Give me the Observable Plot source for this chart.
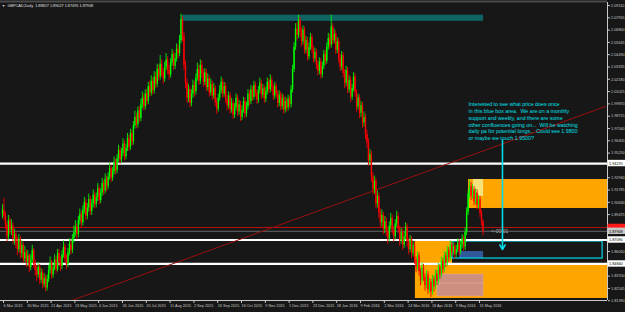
<!DOCTYPE html>
<html><head><meta charset="utf-8">
<script src="https://cdn.jsdelivr.net/npm/d3@7"></script>
<script src="https://cdn.jsdelivr.net/npm/@observablehq/plot@0.6"></script>
<style>html,body{margin:0;padding:0;background:#171717;overflow:hidden}</style>
</head><body><div id="chart"></div>
<script>
const symbolTitle = "GBPCAD,Daily  1.88827 1.89027 1.87495 1.87908";
const firstOpen = 1.895;
const close = [1.899,1.893,1.885,1.874,1.889,1.880,1.884,1.872,1.876,1.868,
1.862,1.871,1.858,1.866,1.853,1.859,1.850,1.856,1.845,1.852,1.861,1.848,1.842,
1.838,1.845,1.833,1.840,1.829,1.835,1.826,1.834,1.842,
1.849,1.838,1.845,1.852,1.843,1.858,1.850,1.846,1.857,1.864,1.853,1.848,1.859,1.867,1.861,1.872,1.878,
1.883,1.876,1.889,1.895,1.887,1.899,1.906,1.893,1.901,1.909,1.898,1.905,1.913,1.904,1.911,1.919,1.908,1.915,1.924,1.917,1.928,
1.921,1.930,1.938,1.929,1.935,1.944,1.936,1.947,1.955,1.946,1.952,1.961,1.949,1.957,1.966,1.958,1.971,1.963,1.978,1.986,
1.979,1.992,1.985,1.998,2.004,1.996,2.008,2.001,2.015,2.009,2.020,2.011,2.024,2.017,2.031,2.024,2.036,2.028,2.022,
2.033,2.040,2.030,2.026,2.037,2.045,2.034,2.041,2.050,2.046,2.058,2.078,2.062,2.035,
2.018,2.004,2.012,1.999,2.008,2.016,2.010,2.023,2.031,2.020,2.035,2.027,2.019,2.028,2.014,2.022,2.009,2.017,
2.006,2.013,2.000,1.994,2.004,2.011,2.019,2.008,2.015,2.003,1.997,2.006,1.993,1.999,1.988,1.995,2.004,1.991,1.998,1.986,1.993,2.001,1.989,1.996,2.008,2.001,2.012,2.005,2.016,2.009,2.002,2.011,2.018,2.007,2.013,2.003,2.010,2.019,2.012,2.021,2.014,2.006,2.015,2.008,1.999,2.007,1.996,2.004,1.993,2.001,1.995,2.003,1.998,2.012,
2.031,2.052,2.069,2.063,2.077,2.066,2.057,2.068,2.049,2.058,2.043,2.052,2.061,
2.050,2.041,2.047,2.035,2.029,2.038,2.026,2.034,2.045,2.039,2.052,2.060,2.054,2.071,2.058,
2.064,2.049,2.057,2.041,2.033,2.044,2.027,2.018,2.030,2.012,2.021,2.005,2.013,2.024,2.009,1.996,2.004,1.990,
1.997,1.981,1.986,1.970,1.962,1.945,1.951,1.930,1.918,1.926,1.905,1.912,1.896,1.887,1.894,1.881,1.888,
1.879,1.872,1.884,1.891,1.880,1.874,1.886,1.893,1.881,1.870,1.878,1.866,1.874,1.883,1.869,1.862,1.871,1.858,
1.866,1.852,1.845,1.856,1.841,1.833,1.845,1.836,1.828,1.838,1.824,1.831,1.822,1.834,1.827,1.839,
1.832,1.845,1.838,1.851,1.843,1.856,1.849,1.861,1.854,1.866,1.859,1.865,1.857,1.862,1.868,1.860,1.866,1.872,1.864,
1.878,1.897,1.914,1.921,1.912,1.918,1.907,1.915,1.903,1.909,1.896,1.888,1.879];
const high = [1.904,1.910,1.897,1.888,1.894,1.892,1.890,1.887,1.881,1.879,
1.873,1.876,1.874,1.870,1.869,1.865,1.862,1.861,1.858,1.857,1.866,1.863,1.852,
1.847,1.850,1.848,1.844,1.843,1.839,1.838,1.838,1.847,
1.855,1.852,1.849,1.857,1.855,1.862,1.862,1.855,1.861,1.870,1.867,1.857,1.863,1.872,1.871,1.876,1.884,
1.889,1.886,1.893,1.900,1.898,1.903,1.911,1.909,1.905,1.914,1.912,1.909,1.918,1.916,1.915,1.924,1.922,1.919,1.929,1.927,1.933,
1.931,1.934,1.943,1.941,1.939,1.949,1.947,1.951,1.960,1.958,1.957,1.966,1.964,1.961,1.971,1.969,1.975,1.974,1.982,1.992,
1.990,1.996,1.996,2.003,2.010,2.008,2.012,2.012,2.019,2.020,2.025,2.023,2.029,2.028,2.036,2.035,2.044,2.040,2.032,
2.038,2.046,2.043,2.035,2.041,2.050,2.048,2.046,2.055,2.054,2.063,2.083,2.081,2.066,
2.039,2.022,2.017,2.015,2.012,2.021,2.020,2.027,2.037,2.035,2.040,2.039,2.031,2.032,2.031,2.027,2.025,2.022,
2.020,2.018,2.016,2.004,2.008,2.016,2.024,2.022,2.019,2.018,2.007,2.010,2.009,2.004,2.002,1.999,2.008,2.007,2.002,2.001,1.997,2.005,2.004,2.000,2.012,2.011,2.016,2.015,2.020,2.019,2.012,2.015,2.023,2.021,2.017,2.016,2.014,2.023,2.022,2.026,2.024,2.017,2.019,2.018,2.011,2.011,2.010,2.008,2.007,2.005,2.004,2.007,2.006,2.016,
2.035,2.056,2.074,2.075,2.082,2.080,2.070,2.072,2.071,2.062,2.061,2.056,2.065,
2.064,2.053,2.051,2.050,2.039,2.042,2.041,2.038,2.049,2.049,2.056,2.065,2.064,2.082,2.074,
2.069,2.067,2.061,2.060,2.045,2.048,2.047,2.031,2.034,2.033,2.025,2.024,2.017,2.028,2.027,2.012,2.008,2.007,
2.001,2.000,1.991,1.989,1.974,1.966,1.956,1.954,1.934,1.931,1.929,1.917,1.915,1.900,1.899,1.897,1.893,
1.892,1.883,1.888,1.896,1.894,1.884,1.890,1.898,1.896,1.884,1.882,1.881,1.878,1.887,1.886,1.872,1.875,1.874,
1.870,1.869,1.855,1.860,1.859,1.844,1.849,1.848,1.839,1.842,1.841,1.835,1.834,1.838,1.837,1.843,
1.842,1.849,1.848,1.855,1.854,1.860,1.859,1.865,1.864,1.870,1.869,1.869,1.868,1.866,1.872,1.871,1.870,1.876,1.875,
1.882,1.901,1.918,1.927,1.925,1.923,1.921,1.919,1.918,1.913,1.912,1.899,1.890];
const low = [1.891,1.889,1.881,1.869,1.871,1.876,1.875,1.867,1.866,1.863,
1.856,1.859,1.853,1.854,1.849,1.850,1.845,1.846,1.840,1.842,1.849,1.844,1.837,
1.832,1.835,1.829,1.830,1.825,1.826,1.822,1.823,1.831,
1.839,1.834,1.835,1.842,1.839,1.841,1.846,1.841,1.843,1.854,1.849,1.843,1.845,1.856,1.857,1.858,1.868,
1.874,1.871,1.873,1.885,1.882,1.884,1.895,1.889,1.890,1.897,1.894,1.894,1.901,1.900,1.901,1.907,1.904,1.905,1.912,1.913,1.914,
1.916,1.918,1.927,1.925,1.926,1.932,1.932,1.933,1.944,1.942,1.943,1.949,1.945,1.946,1.954,1.954,1.955,1.959,1.960,1.975,
1.975,1.976,1.981,1.982,1.994,1.992,1.993,1.997,1.998,2.005,2.006,2.007,2.008,2.013,2.014,2.020,2.021,2.024,2.017,
2.019,2.030,2.026,2.021,2.023,2.034,2.030,2.031,2.038,2.041,2.043,2.055,2.057,2.030,
2.013,1.999,2.000,1.995,1.996,2.004,2.005,2.007,2.020,2.016,2.017,2.023,2.014,2.016,2.010,2.011,2.005,2.006,
2.002,2.003,1.996,1.989,1.991,2.001,2.008,2.004,2.005,1.999,1.992,1.994,1.989,1.990,1.984,1.985,1.992,1.987,1.988,1.982,1.983,1.990,1.985,1.986,1.993,1.997,1.998,2.001,2.002,2.005,1.998,1.999,2.008,2.003,2.004,1.999,2.000,2.007,2.008,2.009,2.010,2.002,2.003,2.004,1.995,1.996,1.992,1.993,1.989,1.990,1.991,1.992,1.994,1.995,
2.009,2.028,2.049,2.058,2.060,2.061,2.052,2.054,2.045,2.046,2.039,2.040,2.049,
2.046,2.037,2.038,2.031,2.025,2.026,2.022,2.023,2.031,2.035,2.036,2.049,2.050,2.051,2.054,
2.055,2.045,2.046,2.037,2.029,2.030,2.023,2.013,2.015,2.008,2.009,2.000,2.002,2.010,2.005,1.991,1.993,1.985,
1.986,1.976,1.977,1.965,1.957,1.940,1.941,1.925,1.913,1.914,1.900,1.901,1.891,1.882,1.883,1.876,1.877,
1.874,1.867,1.869,1.880,1.876,1.869,1.871,1.883,1.877,1.865,1.867,1.861,1.863,1.871,1.864,1.857,1.859,1.853,
1.855,1.848,1.840,1.842,1.837,1.828,1.830,1.832,1.823,1.825,1.820,1.821,1.817,1.819,1.822,1.824,
1.828,1.829,1.834,1.835,1.839,1.840,1.845,1.846,1.850,1.851,1.855,1.856,1.853,1.854,1.859,1.856,1.857,1.863,1.860,
1.861,1.875,1.894,1.910,1.908,1.909,1.903,1.904,1.899,1.900,1.892,1.884,1.875];

// time axis: one label every 16 bars, starting at bar 0
const dateLabels = ["6 Mar 2015","30 Mar 2015","21 Apr 2015","13 May 2015","4 Jun 2015","26 Jun 2015","20 Jul 2015","11 Aug 2015","2 Sep 2015","24 Sep 2015","16 Oct 2015","9 Nov 2015","1 Dec 2015","23 Dec 2015","18 Jan 2016","9 Feb 2016","2 Mar 2016","24 Mar 2016","18 Apr 2016","9 May 2016","31 May 2016"];
const dateLabelBars = [0,16,32,48,64,80,96,112,128,144,160,176,192,208,224,240,256,272,288,304,320];
const priceTicks = [2.09110,2.07955,2.06800,2.05645,2.04490,2.03335,2.02180,2.01025,1.99870,1.98715,1.97560,1.96405,1.95250,1.94095,1.92940,1.91785,1.90630,1.89475,1.88320,1.87165,1.86010,1.84855,1.83700,1.82545,1.81390];

// drawn objects (bar index, price)
const whiteLevels = [1.94270, 1.87090, 1.84840];
const redLevel = 1.88270;
const bidPrice = 1.87908;
const topZone = {from: 120.3, to: 323.4, top: 2.0820, bottom: 2.0762};
const upperOrange = {from: 313.3, top: 1.9277, bottom: 1.9005};
const yellowBox = {from: 316.6, to: 323.4, top: 1.9277, bottom: 1.9117};
const lowerOrangeLeft = {from: 277.6, to: 302.5, top: 1.8695, bottom: 1.8160};
const lowerOrange = {from: 277.6, top: 1.8484, bottom: 1.8160};
const pinkBoxes = [{from: 292.4, to: 323.4, top: 1.8385, bottom: 1.8300}, {from: 292.4, to: 323.4, top: 1.8300, bottom: 1.8179}];
const blueBox = {from: 307.2, to: 323.4, top: 1.8601, bottom: 1.8535};
const cyanBox = {from: 302.5, to: 403.4, top: 1.8695, bottom: 1.8535};
const trendPoints = [{i: 41, p: 1.8113}, {i: 405.4, p: 1.9963}];
const arrowPoints = {i: 336.1, from: 1.9643, to: 1.8620};
const timerLabel = {i: 328.5, p: 1.8789, text: "<-00:01"};
const noteLines = ["Interested to see what price does once","in this blue box area.  We are on a monthly","support and weekly, and there are some","other confluences going on...  Will be watching","daily pa for potential longs..  Could see 1.9800","or maybe we touch 1.9500?"];
const noteAnchor = {i: 313.3, p: 2.0010};

const bars = close.map((c, i) => {
  const o = i ? close[i - 1] : firstOpen;
  return {i, open: o, close: c, high: Math.max(high[i], o, c), low: Math.min(low[i], o, c)};
});
const xMin = -1.345, xMax = 406.7;
const up = bars.filter(d => d.close >= d.open), down = bars.filter(d => d.close < d.open);
const box = (b, x2) => [{x1: b.from, x2: b.to ?? x2, y1: b.bottom, y2: b.top}];
const labW = 11.8, labH = 0.0030;
const hl = [
  ...whiteLevels.map(p => ({p, bg: "#ffffff", fg: "#000000"})),
  {p: bidPrice, bg: "#c8c8c8", fg: "#000000"}
];
const coveredPrices = [...whiteLevels, redLevel, bidPrice];
const shownTicks = priceTicks.filter(t => coveredPrices.every(p => Math.abs(p - t) > 0.0052));

const chart = Plot.plot({
  width: 625, height: 312,
  marginLeft: 0, marginRight: 18, marginTop: 2, marginBottom: 12,
  x: {type: "linear", domain: [xMin, xMax], axis: null, label: null},
  y: {type: "linear", domain: [1.8141, 2.0939], axis: null, label: null},
  style: {background: "#171717", color: "#c8c8c8", fontFamily: "'Liberation Sans', Arial, sans-serif", overflow: "visible"},
  marks: [
    Plot.rect(box(topZone), {x1: "x1", x2: "x2", y1: "y1", y2: "y2", fill: "#0f6363"}),
    Plot.rect(box(upperOrange, xMax), {x1: "x1", x2: "x2", y1: "y1", y2: "y2", fill: "#ffa500"}),
    Plot.rect(box(yellowBox), {x1: "x1", x2: "x2", y1: "y1", y2: "y2", fill: "#f6e27c"}),
    Plot.rect(box(lowerOrangeLeft), {x1: "x1", x2: "x2", y1: "y1", y2: "y2", fill: "#ffa500"}),
    Plot.rect(box(lowerOrange, xMax), {x1: "x1", x2: "x2", y1: "y1", y2: "y2", fill: "#ffa500"}),
    Plot.rect(pinkBoxes.map(b => box(b)[0]), {x1: "x1", x2: "x2", y1: "y1", y2: "y2", fill: "#cd8f80", stroke: "#e0a595", strokeWidth: 0.6}),
    Plot.rect(box(blueBox), {x1: "x1", x2: "x2", y1: "y1", y2: "y2", fill: "#31589a"}),
    Plot.rect(box(cyanBox), {x1: "x1", x2: "x2", y1: "y1", y2: "y2", fill: "none", stroke: "#00d8e6", strokeWidth: 1.2}),
    Plot.ruleY(whiteLevels, {stroke: "#ffffff", strokeWidth: 2.2}),
    Plot.ruleY([redLevel], {stroke: "#c01010", strokeWidth: 1}),
    Plot.ruleY([bidPrice], {stroke: "#7a7a7a", strokeWidth: 0.8}),
    Plot.line(trendPoints, {x: "i", y: "p", stroke: "#9a1010", strokeWidth: 1, clip: true}),
    Plot.ruleX(up, {x: "i", y1: "low", y2: "high", stroke: "#00f000", strokeWidth: 0.9}),
    Plot.ruleX(down, {x: "i", y1: "low", y2: "high", stroke: "#f00000", strokeWidth: 0.9}),
    Plot.ruleX(up, {x: "i", y1: "open", y2: "close", stroke: "#00ff00", strokeWidth: 1.4}),
    Plot.ruleX(down, {x: "i", y1: "open", y2: "close", stroke: "#ff0000", strokeWidth: 1.4}),
    Plot.arrow([arrowPoints], {x1: "i", x2: "i", y1: "from", y2: "to", stroke: "#00dcea", strokeWidth: 1.6, headLength: 5}),
    Plot.text([timerLabel], {x: "i", y: "p", text: "text", fill: "#b0b0b0", fontSize: 5, textAnchor: "start"}),
    Plot.text([noteLines.join("\n")], {x: noteAnchor.i, y: noteAnchor.p, text: d => d, textAnchor: "start", lineAnchor: "top", fill: "#00e0ee", fontSize: 5.3, lineHeight: 1.28}),
    Plot.text([symbolTitle], {frameAnchor: "top-left", dx: 7, dy: 3, text: d => d, textAnchor: "start", lineAnchor: "middle", fill: "#e0e0e0", fontSize: 3.8}),
    Plot.text(["\u25BC"], {frameAnchor: "top-left", dx: 3, dy: 3, text: d => d, textAnchor: "middle", lineAnchor: "middle", fill: "#e0e0e0", fontSize: 3.5}),
    Plot.ruleX([xMax], {stroke: "#c8c8c8", strokeWidth: 1, y1: 1.8141, y2: 2.0939}),
    Plot.ruleY([1.8141], {stroke: "#c8c8c8", strokeWidth: 1, x1: xMin, x2: xMax}),
    Plot.ruleY([2.0939], {stroke: "#4a4a4a", strokeWidth: 2, dy: -1}),
    Plot.axisY(shownTicks, {anchor: "right", tickSize: 2, tickPadding: 1.5, tickFormat: d3.format(".5f"), fontSize: 3.8, color: "#c8c8c8", label: null}),
    Plot.axisX(dateLabelBars, {anchor: "bottom", tickSize: 3, tickPadding: 1, tickFormat: d => dateLabels[dateLabelBars.indexOf(d)], textAnchor: "start", dx: 1, fontSize: 3.8, color: "#c8c8c8", label: null}),
    Plot.rect([{p: redLevel}], {x1: xMax + 0.35, x2: xMax + 0.35 + labW, y1: d => d.p - 0.0012, y2: d => d.p + labH, fill: "#ff1a1a", clip: false}),
    Plot.rect(hl, {x1: xMax + 0.35, x2: xMax + 0.35 + labW, y1: d => d.p - labH, y2: d => d.p + labH, fill: "bg", clip: false}),
    Plot.text(hl, {x: xMax + 1, y: "p", text: d => d3.format(".5f")(d.p), fill: "fg", textAnchor: "start", fontSize: 3.8})
  ]
});
document.getElementById("chart").appendChild(chart);
</script>
</body></html>
